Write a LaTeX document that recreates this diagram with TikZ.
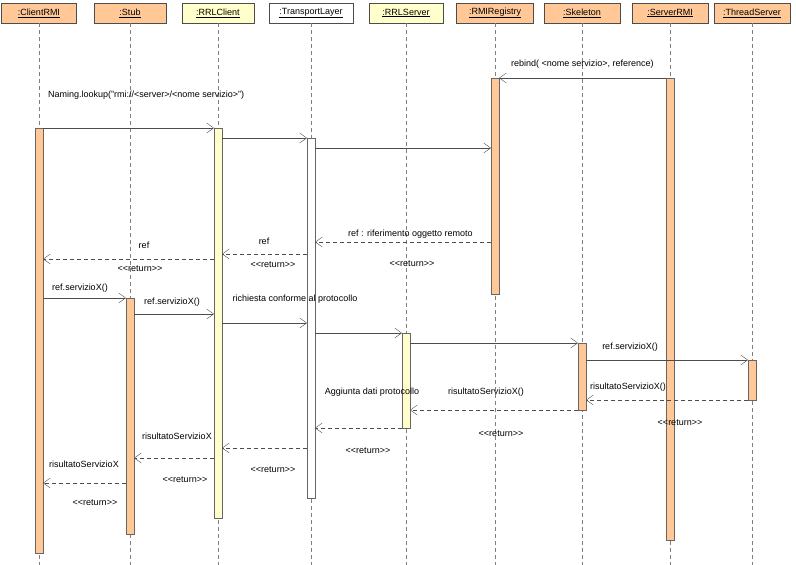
\documentclass[tikz,border=0pt]{standalone}
\usepackage{fontspec}
\setmainfont{Liberation Sans}
\usetikzlibrary{arrows.meta,positioning,calc}
\definecolor{arancio}{RGB}{255,200,150}
\definecolor{giallo}{RGB}{255,255,204}
\tikzset{
  obj/.style={draw=black!70,minimum width=#1,minimum height=20pt,inner sep=0pt,font=\fontsize{9}{10}\selectfont},
  vita/.style={draw=black!50,dash pattern=on 4pt off 3pt},
  att/.style={draw=black!60},
  msg/.style={draw=black!70,-{Straight Barb[length=7pt,width=10pt]}},
  ret/.style={msg,dash pattern=on 4pt off 3pt},
  lab/.style={font=\fontsize{9}{10}\selectfont,inner sep=0pt}
}
% #1 nome, #2 x, #3 larghezza, #4 testo, #5 colore
\newcommand \oggetto[5]
{
\node[obj=#3,fill=#5] (#1) at (#2,13) {\underline{#4}};
\draw[vita] (#1.south)--(#2,565);
}
% #1 nome, #2 x, #3 y inizio, #4 y fine, #5 colore
\newcommand \attiva[5]
{
\coordinate (#1a) at (#2-4,#3);
\coordinate (#1b) at (#2+4,#4);
\filldraw[att,fill=#5] (#1a) rectangle (#1b);
}
\begin{document}
\begin{tikzpicture}[x=1pt,y=-1pt]
\useasboundingbox (0,0) rectangle (796,565);
\oggetto{cli}{39}{75}{:ClientRMI}{arancio}
\oggetto{stub}{130}{72}{:Stub}{arancio}
\oggetto{rrlc}{218}{72}{:RRLClient}{giallo}
\oggetto{tl}{311}{84}{:TransportLayer}{white}
\oggetto{rrls}{406}{74}{:RRLServer}{giallo}
\oggetto{reg}{495}{77}{:RMIRegistry}{arancio}
\oggetto{sk}{582}{76}{:Skeleton}{arancio}
\oggetto{srv}{670}{76}{:ServerRMI}{arancio}
\oggetto{th}{752}{76}{:ThreadServer}{arancio}
\attiva{Acli}{39}{128}{553}{arancio}
\attiva{Arrlc}{218}{128}{518}{giallo}
\attiva{Atl}{311}{138}{498}{white}
\attiva{Areg}{495}{78}{294}{arancio}
\attiva{Asrv}{670}{78}{540}{arancio}
\attiva{Astub}{130}{298}{534}{arancio}
\attiva{Arrls}{406}{333}{428}{giallo}
\attiva{Ask}{582}{343}{410}{arancio}
\attiva{Ath}{752}{360}{400}{arancio}
% registrazione e lookup
\coordinate (p1) at (666,78);  \coordinate (p2) at (499,78);
\draw[msg] (p1)--(p2);
\node[lab,anchor=west] (t1) at (511,64) {rebind( <nome servizio>, reference)};
\node[lab,anchor=west] (t2) at (48,95) {Naming.lookup("rmi://<server>/<nome servizio>")};
\coordinate (p3) at (43,128);  \coordinate (p4) at (214,128);
\coordinate (p5) at (222,138); \coordinate (p6) at (307,138);
\coordinate (p7) at (315,148); \coordinate (p8) at (491,148);
\draw[msg] (p3)--(p4);
\draw[msg] (p5)--(p6);
\draw[msg] (p7)--(p8);
% ritorno del riferimento
\coordinate (r1) at (491,242); \coordinate (r2) at (315,242);
\coordinate (r3) at (307,254); \coordinate (r4) at (222,254);
\coordinate (r5) at (214,259); \coordinate (r6) at (43,259);
\draw[ret] (r1)--(r2);
\draw[ret] (r3)--(r4);
\draw[ret] (r5)--(r6);
\node[lab,anchor=west] at (348,234) {ref : riferimento oggetto remoto};
\node[lab] at (412,264) {<{}<return>{}>};
\node[lab] at (264,241) {ref};
\node[lab] at (273,265) {<{}<return>{}>};
\node[lab] at (144,245) {ref};
\node[lab] at (140,269) {<{}<return>{}>};
% invocazione remota
\coordinate (s1) at (43,298);  \coordinate (s2) at (126,298);
\coordinate (s3) at (134,314); \coordinate (s4) at (214,314);
\coordinate (s5) at (222,323); \coordinate (s6) at (307,323);
\coordinate (s7) at (315,333); \coordinate (s8) at (402,333);
\coordinate (s9) at (410,343); \coordinate (s10) at (578,343);
\coordinate (s11) at (586,360); \coordinate (s12) at (748,360);
\draw[msg] (s1)--(s2);
\draw[msg] (s3)--(s4);
\draw[msg] (s5)--(s6);
\draw[msg] (s7)--(s8);
\draw[msg] (s9)--(s10);
\draw[msg] (s11)--(s12);
\node[lab] at (80,288) {ref.servizioX()};
\node[lab] at (172,302) {ref.servizioX()};
\node[lab] at (295,299) {richiesta conforme al protocollo};
\node[lab] at (630,347) {ref.servizioX()};
% risultati
\coordinate (u1) at (748,400);  \coordinate (u2) at (586,400);
\coordinate (u3) at (578,410);  \coordinate (u4) at (410,410);
\coordinate (u5) at (402,428);  \coordinate (u6) at (315,428);
\coordinate (u7) at (307,448);  \coordinate (u8) at (222,448);
\coordinate (u9) at (214,458);  \coordinate (u10) at (134,458);
\coordinate (u11) at (126,483); \coordinate (u12) at (43,483);
\draw[ret] (u1)--(u2);
\draw[ret] (u3)--(u4);
\draw[ret] (u5)--(u6);
\draw[ret] (u7)--(u8);
\draw[ret] (u9)--(u10);
\draw[ret] (u11)--(u12);
\node[lab] at (628,387) {risultatoServizioX()};
\node[lab] at (680,423) {<{}<return>{}>};
\node[lab] at (486,392) {risultatoServizioX()};
\node[lab] at (501,434) {<{}<return>{}>};
\node[lab] at (372,392) {Aggiunta dati protocollo};
\node[lab] at (368,451) {<{}<return>{}>};
\node[lab] at (273,470) {<{}<return>{}>};
\node[lab] at (177,436) {risultatoServizioX};
\node[lab] at (185,480) {<{}<return>{}>};
\node[lab] at (84,464) {risultatoServizioX};
\node[lab] at (95,503) {<{}<return>{}>};
\end{tikzpicture}
\end{document}
